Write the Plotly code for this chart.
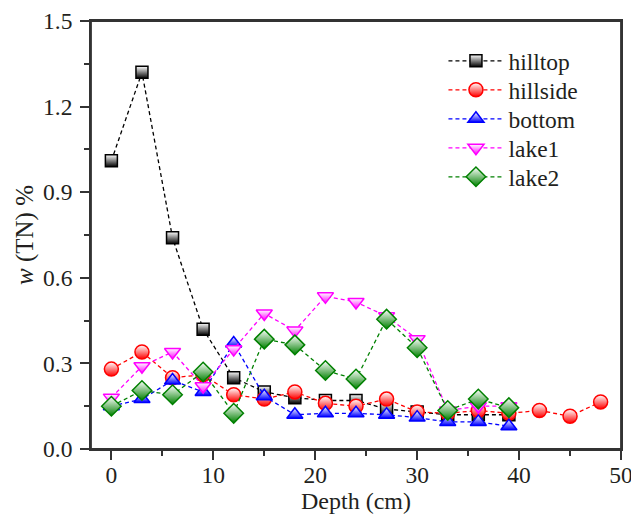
import plotly.graph_objects as go

depth14 = [0, 3, 6, 9, 12, 15, 18, 21, 24, 27, 30, 33, 36, 39]
depth17 = [0, 3, 6, 9, 12, 15, 18, 21, 24, 27, 30, 33, 36, 39, 42, 45, 48]

hilltop = [1.01, 1.32, 0.74, 0.42, 0.25, 0.20, 0.18, 0.17, 0.17, 0.14, 0.13, 0.12, 0.12, 0.12]
hillside = [0.28, 0.34, 0.25, 0.26, 0.19, 0.175, 0.20, 0.16, 0.15, 0.175, 0.13, 0.125, 0.135, 0.125, 0.135, 0.115, 0.165]
bottom = [0.15, 0.175, 0.24, 0.20, 0.37, 0.185, 0.12, 0.125, 0.125, 0.12, 0.11, 0.095, 0.095, 0.08]
lake1 = [0.18, 0.29, 0.34, 0.22, 0.35, 0.475, 0.415, 0.535, 0.515, 0.465, 0.385, 0.135, 0.15, 0.15]
lake2 = [0.15, 0.205, 0.19, 0.27, 0.125, 0.385, 0.365, 0.275, 0.245, 0.455, 0.355, 0.135, 0.175, 0.145]

series = [
    ("hilltop", depth14, hilltop, "black", "square", 12),
    ("hillside", depth17, hillside, "red", "circle", 14),
    ("bottom", depth14, bottom, "blue", "triangle-up", 14),
    ("lake1", depth14, lake1, "magenta", "triangle-down", 14),
    ("lake2", depth14, lake2, "green", "diamond", 15),
]

FONT = "Times New Roman, Liberation Serif, Tinos, serif"
TXT = "#231f20"
PLOT_TOP, PLOT_BOTTOM = 21, 449
legend_rows_px = [61, 90, 119, 148, 177]

fig = go.Figure()
layout_legends = {}
for i, (name, xs, ys, col, sym, sz) in enumerate(series):
    key = "legend" if i == 0 else f"legend{i + 1}"
    fig.add_trace(go.Scatter(
        x=xs, y=ys, name=name, mode="lines+markers", legend=key, showlegend=True,
        line=dict(color=col, width=1.3, dash="4px,3px"),
        marker=dict(symbol=sym, size=sz, color="white",
                    gradient=dict(type="vertical", color=col),
                    line=dict(color=col, width=1.5)),
    ))
    layout_legends[key] = dict(
        x=0.665, y=(PLOT_BOTTOM - legend_rows_px[i]) / (PLOT_BOTTOM - PLOT_TOP),
        xanchor="left", yanchor="middle",
        font=dict(family=FONT, size=23.5, color=TXT),
        bgcolor="rgba(0,0,0,0)", itemwidth=55,
    )

axis_common = dict(
    showline=True, linecolor="#333", linewidth=1.8, mirror=True,
    ticks="outside", ticklen=9, tickwidth=1.5, tickcolor="#333",
    showgrid=False, zeroline=False, automargin=False, ticklabeloverflow="allow",
    tickfont=dict(family=FONT, size=23.5, color=TXT),
)
fig.update_xaxes(range=[-2, 50], tickvals=[0, 10, 20, 30, 40, 50],
                 ticklabelstandoff=-5,
                 minor=dict(ticks="outside", ticklen=5, tickwidth=1.5, tickcolor="#333", dtick=5, tick0=0),
                 title=dict(text="Depth (cm)", font=dict(family=FONT, size=24, color=TXT), standoff=2),
                 **axis_common)
fig.update_yaxes(range=[0, 1.5], tickvals=[0, 0.3, 0.6, 0.9, 1.2, 1.5], ticktext=["0.0", "0.3", "0.6", "0.9", "1.2", "1.5"],
                 ticklabelstandoff=3,
                 minor=dict(ticks="outside", ticklen=5, tickwidth=1.5, tickcolor="#333", dtick=0.15, tick0=0),
                 title=dict(text="<i>w</i> (TN) %", font=dict(family=FONT, size=25, color=TXT), standoff=2),
                 **axis_common)
fig.add_shape(type="rect", xref="x domain", yref="y domain", x0=0, x1=1, y0=0, y1=1,
              line=dict(color="#333", width=1.8), layer="above")
fig.update_layout(
    width=631, height=518,
    margin=dict(l=91, r=10, t=PLOT_TOP, b=518 - PLOT_BOTTOM),
    plot_bgcolor="white", paper_bgcolor="white", showlegend=True,
    **layout_legends,
)
fig.write_html("out.html", config={"displayModeBar": False},
               post_script="document.body.style.margin='0';document.body.style.overflow='hidden';")
